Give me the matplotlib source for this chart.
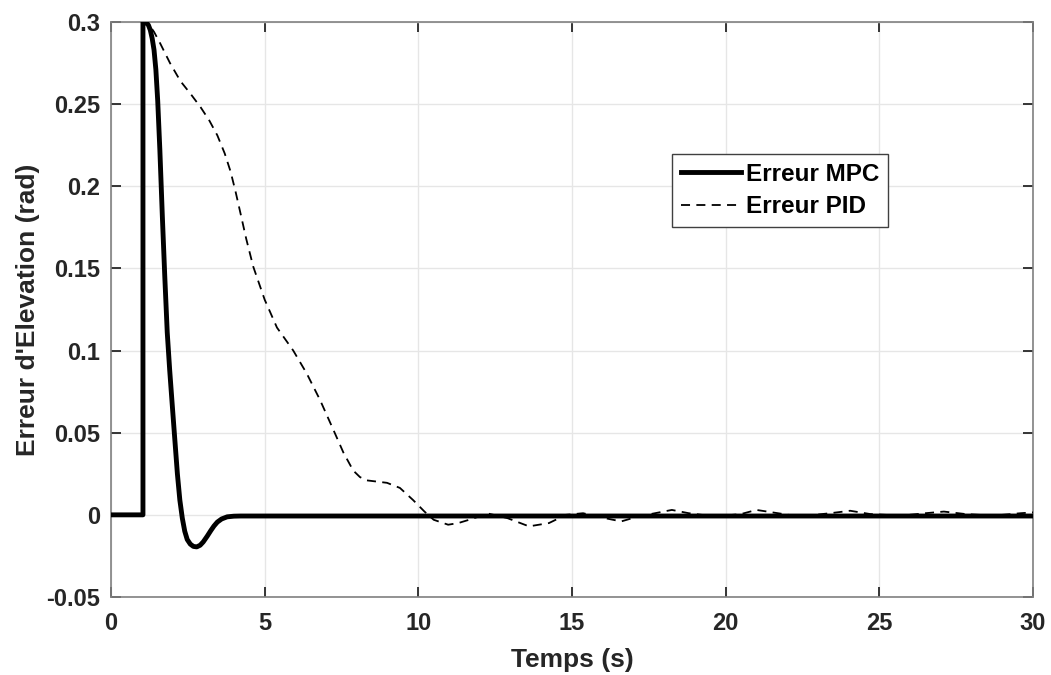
import matplotlib
matplotlib.use("Agg")
import matplotlib.pyplot as plt

# MPC error (time s, rad)
t_mpc = [0, 1.04, 1.04, 1.10, 1.16, 1.22, 1.28, 1.34, 1.40, 1.46, 1.52, 1.59, 1.67, 1.75, 1.83, 1.91, 1.99,
         2.08, 2.16, 2.24, 2.32, 2.40, 2.48, 2.58, 2.68, 2.79, 2.90, 3.0, 3.13, 3.25,
         3.35, 3.46, 3.6, 3.78, 4.0, 4.22, 30]
e_mpc = [0, 0, 0.3, 0.3, 0.2995, 0.298, 0.295, 0.29, 0.283, 0.271, 0.252, 0.222, 0.182, 0.145, 0.111, 0.088, 0.0676,
         0.045, 0.025, 0.009, -0.002, -0.010, -0.015, -0.0178, -0.0192, -0.0195, -0.0185, -0.0165,
         -0.013, -0.0095, -0.0068, -0.0044, -0.0025, -0.0012, -0.0008, -0.0007, -0.0007]

# PID error (time s, rad)
t_pid = [0, 1.04, 1.04, 1.13, 1.25, 1.40, 1.6, 1.92, 2.26, 2.6, 2.92, 3.2, 3.46, 3.7, 3.89, 4.05, 4.22,
         4.4, 4.63, 5.0, 5.4, 5.93, 6.37, 6.8, 7.23, 7.56, 7.88, 8.1, 8.32, 8.98, 9.4, 9.83,
         10.2, 10.5, 10.97, 11.3, 11.65, 12.27, 12.9, 13.6, 14.25, 14.8, 15.36, 16.07, 16.6,
         17.15, 17.7, 18.25, 18.8, 19.65, 20.5, 21.0, 21.7, 22.4, 23.4, 24.05, 24.7, 25.7,
         26.5, 27.1, 27.8, 28.7, 29.6, 30]
e_pid = [0, 0, 0.3, 0.3, 0.298, 0.294, 0.287, 0.275, 0.264, 0.256, 0.248, 0.240, 0.231, 0.220, 0.209, 0.197, 0.183,
         0.168, 0.151, 0.131, 0.114, 0.100, 0.086, 0.070, 0.052, 0.038, 0.027, 0.023, 0.021, 0.0195, 0.0164, 0.009,
         0.002, -0.003, -0.006, -0.005, -0.003, 0.0008, -0.002, -0.007, -0.005, 0.0, 0.001, -0.002, -0.004,
         -0.001, 0.001, 0.003, 0.001, -0.001, 0.0005, 0.003, 0.001, -0.001, 0.001, 0.0025, 0.0005, -0.0005,
         0.001, 0.002, 0.0005, -0.0005, 0.001, 0.0015]

x_ticks = [0, 5, 10, 15, 20, 25, 30]
y_ticks = [-0.05, 0, 0.05, 0.1, 0.15, 0.2, 0.25, 0.3]
y_ticklabels = ["-0.05", "0", "0.05", "0.1", "0.15", "0.2", "0.25", "0.3"]

plt.rcParams['font.family'] = ['Liberation Sans', 'DejaVu Sans']
plt.rcParams['font.weight'] = 'bold'

fig = plt.figure(figsize=(10.51, 6.75), dpi=100)
ax = fig.add_axes([111/1051, 1 - 597/675, (1033-111)/1051, (597-22)/675])

ax.plot(t_mpc, e_mpc, color='black', lw=3.5, label='Erreur MPC', zorder=3,
        solid_joinstyle='round')
ax.plot(t_pid, e_pid, color='black', lw=1.3, linestyle=(0, (5, 3.5)), label='Erreur PID', zorder=4)

ax.set_xlim(0, 30)
ax.set_ylim(-0.05, 0.3)
ax.set_xticks(x_ticks)
ax.set_xticklabels([str(v) for v in x_ticks])
ax.set_yticks(y_ticks)
ax.set_yticklabels(y_ticklabels)
ax.grid(True, color='#e6e6e6', lw=1)
ax.set_axisbelow(True)
ax.tick_params(direction='in', length=7, width=1.3, top=True, right=True,
               labelsize=17, colors='#262626')
ax.tick_params(axis='x', pad=11)
ax.tick_params(axis='y', pad=8)
for lab in ax.get_xticklabels() + ax.get_yticklabels():
    lab.set_fontweight('bold')
    lab.set_color('#262626')
for s in ax.spines.values():
    s.set_color('#808080')
    s.set_linewidth(1.2)

ax.set_xlabel('Temps (s)', fontsize=19, fontweight='bold', color='#262626', labelpad=9)
ax.set_ylabel("Erreur d'Elevation (rad)", fontsize=19, fontweight='bold', color='#262626', labelpad=4)

leg = ax.legend(loc='upper left', bbox_to_anchor=(0.6085, 0.7704), fontsize=17.5,
                handlelength=2.5, handletextpad=0.2, borderpad=0.35, labelspacing=0.4,
                fancybox=False, framealpha=1, edgecolor='#404040', borderaxespad=0)
leg.get_frame().set_linewidth(1.0)
for t in leg.get_texts():
    t.set_fontweight('bold')

fig.savefig('out.png', dpi=100)
